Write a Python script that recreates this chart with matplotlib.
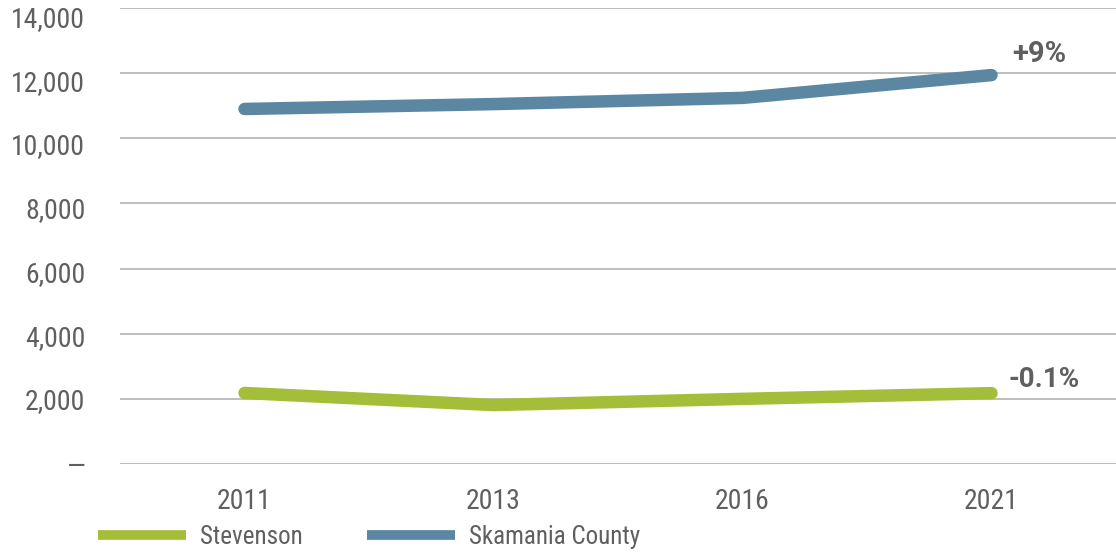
import matplotlib.pyplot as plt
from matplotlib import font_manager
from matplotlib.transforms import ScaledTranslation

years = ["2011", "2013", "2016", "2021"]
stevenson = [2180, 1810, 2000, 2175]
skamania = [10900, 11050, 11240, 11940]
change_labels = ["-0.1%", "+9%"]

green = "#a4be3a"
blue = "#5b87a3"
grey = "#5f5f5f"

# prefer a condensed face if one is installed
names = {f.name for f in font_manager.fontManager.ttflist}
cond = [n for n in ["Roboto Condensed", "Liberation Sans Narrow"] if n in names]
plt.rcParams['font.family'] = cond[:1] + ['Roboto', 'DejaVu Sans']

fig = plt.figure(figsize=(11.16, 5.52), dpi=100)
ax = fig.add_axes([120 / 1116, 88 / 552, 996 / 1116, 456 / 552])

x = range(len(years))
l1, = ax.plot(x, stevenson, color=green, lw=9, solid_capstyle='round', label="Stevenson", zorder=3)
l2, = ax.plot(x, skamania, color=blue, lw=9, solid_capstyle='round', label="Skamania County", zorder=3)

ax.set_xlim(-0.5, 3.5)
ax.set_ylim(0, 14000)
ax.set_yticks(range(0, 14001, 2000))
ax.set_yticklabels(["—"] + [f"{v:,}" for v in range(2000, 14001, 2000)])
ax.set_xticks(list(x))
ax.set_xticklabels(years)
ax.tick_params(axis='y', length=0, pad=25, labelsize=20, labelcolor=grey)
ax.tick_params(axis='x', length=0, pad=17, labelsize=20, labelcolor=grey)
ax.grid(axis='y', color='#b3b3b3', lw=1.2, zorder=1)
for s in ax.spines.values():
    s.set_visible(False)

# upper labels sit a little below their gridlines in the original
for k, lab in enumerate(ax.get_yticklabels()):
    dy = max(k - 1, 0) * 1.4 / 100
    lab.set_transform(lab.get_transform() + ScaledTranslation(0, -dy, fig.dpi_scale_trans))

ax.annotate(change_labels[1], (3, skamania[-1]), xytext=(15, 15), textcoords='offset points',
            ha='left', va='center', fontsize=21, fontweight='bold', color=grey,
            family=['Roboto', 'DejaVu Sans'])
ax.annotate(change_labels[0], (3, stevenson[-1]), xytext=(12, 10), textcoords='offset points',
            ha='left', va='center', fontsize=20, fontweight='bold', color=grey,
            family=['Roboto', 'DejaVu Sans'])

leg = fig.legend(handles=[l1, l2], loc='lower left', bbox_to_anchor=(0.068, -0.035), ncol=2,
                 frameon=False, fontsize=18, handlelength=3.5, columnspacing=2.6, handletextpad=0.55)
for h in leg.legend_handles:
    h.set_linewidth(7)
    h.set_solid_capstyle('butt')
for t in leg.get_texts():
    t.set_color(grey)

fig.savefig("out.png", dpi=100)
